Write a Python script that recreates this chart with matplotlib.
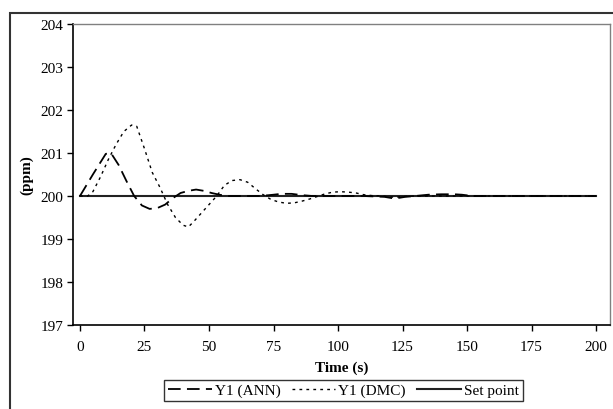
import matplotlib.pyplot as plt
from matplotlib.patches import Rectangle

# Response data
t_ann = [0, 5, 10, 12, 15, 18, 21, 24, 27, 30, 33, 36, 39, 42, 45, 48, 51, 54, 57, 60,
         70, 75, 78, 82, 86, 90, 100, 110, 118, 122, 126, 130, 135, 140, 145, 148, 152, 160, 200]
y_ann = [200, 200.5, 200.98, 201.0, 200.72, 200.35, 200.0, 199.78, 199.7, 199.72, 199.8, 199.95,
         200.07, 200.12, 200.15, 200.12, 200.07, 200.03, 200.0, 200.0,
         200.0, 200.03, 200.05, 200.05, 200.02, 200.0, 200.0, 200.0, 199.98, 199.94, 199.98, 200.0,
         200.03, 200.04, 200.04, 200.03, 200.0, 200.0, 200.0]

t_dmc = [0, 3, 5, 8, 11, 14, 17, 20, 22, 25, 28, 31, 34, 37, 40, 42, 44, 47, 50, 53, 56, 59,
         62, 65, 68, 71, 74, 77, 80, 83, 86, 89, 92, 95, 98, 101, 104, 107, 110, 113, 117, 122,
         126, 130, 200]
y_dmc = [200, 200.0, 200.1, 200.45, 200.85, 201.2, 201.5, 201.65, 201.62, 201.1, 200.55, 200.2,
         199.8, 199.5, 199.32, 199.28, 199.4, 199.6, 199.8, 200.0, 200.25, 200.36,
         200.38, 200.32, 200.17, 200.03, 199.92, 199.86, 199.83, 199.84, 199.88, 199.93,
         199.99, 200.05, 200.09, 200.1, 200.09, 200.07, 200.03, 200.01, 200.0, 199.97,
         199.99, 200.0, 200.0]

t_sp = [0, 200]
y_sp = [200, 200]

x_ticks = [0, 25, 50, 75, 100, 125, 150, 175, 200]
y_ticks = [197, 198, 199, 200, 201, 202, 203, 204]

plt.rcParams['font.family'] = ['Liberation Serif', 'DejaVu Serif']

fig = plt.figure(figsize=(6.13, 4.10), dpi=100)
ax = fig.add_axes([73 / 613, 1 - 326 / 410, (610 - 73) / 613, (326 - 25) / 410])

ax.plot(t_sp, y_sp, color='#222222', lw=1.5, label='Set point', zorder=2)
ax.plot(t_ann, y_ann, color='black', lw=1.3, dashes=(7, 3.5), label='Y1 (ANN)', zorder=3)
ax.plot(t_dmc, y_dmc, color='black', lw=1.0, dashes=(2, 3), label='Y1 (DMC)', zorder=3)

ax.set_xlim(-2.7, 205.4)
ax.set_ylim(197, 204)
ax.set_xticks(x_ticks)
ax.set_yticks(y_ticks)
ax.tick_params(direction='out', length=4, width=1, labelsize=11, colors='black')
ax.tick_params(axis='y', pad=3)
ax.tick_params(axis='x', pad=7)

for s in ['left', 'bottom']:
    ax.spines[s].set_color('black')
    ax.spines[s].set_linewidth(1.2)
for s in ['top', 'right']:
    ax.spines[s].set_color('#808080')
    ax.spines[s].set_linewidth(1.0)

ax.set_xlabel('Time (s)', fontsize=11, fontweight='bold', labelpad=5)
ax.set_ylabel('(ppm)', fontsize=11, fontweight='bold', labelpad=5)

h, l = ax.get_legend_handles_labels()
order = [1, 2, 0]
leg = fig.legend([h[i] for i in order], [l[i] for i in order], loc='center',
                 bbox_to_anchor=(343.5 / 613, 1 - 391.5 / 410), ncol=3, fontsize=11,
                 frameon=True, fancybox=False, edgecolor='black', handlelength=2.85,
                 handletextpad=0.2, columnspacing=0.75, borderpad=0.25)
leg.get_frame().set_linewidth(1.0)

# outer chart border (cropped at right and bottom)
fig.add_artist(Rectangle((10 / 613, -0.1), 1.0, 1.1 - 14 / 410, transform=fig.transFigure,
                         fill=False, edgecolor='#333333', lw=1.5))

fig.savefig('out.png', dpi=100)
